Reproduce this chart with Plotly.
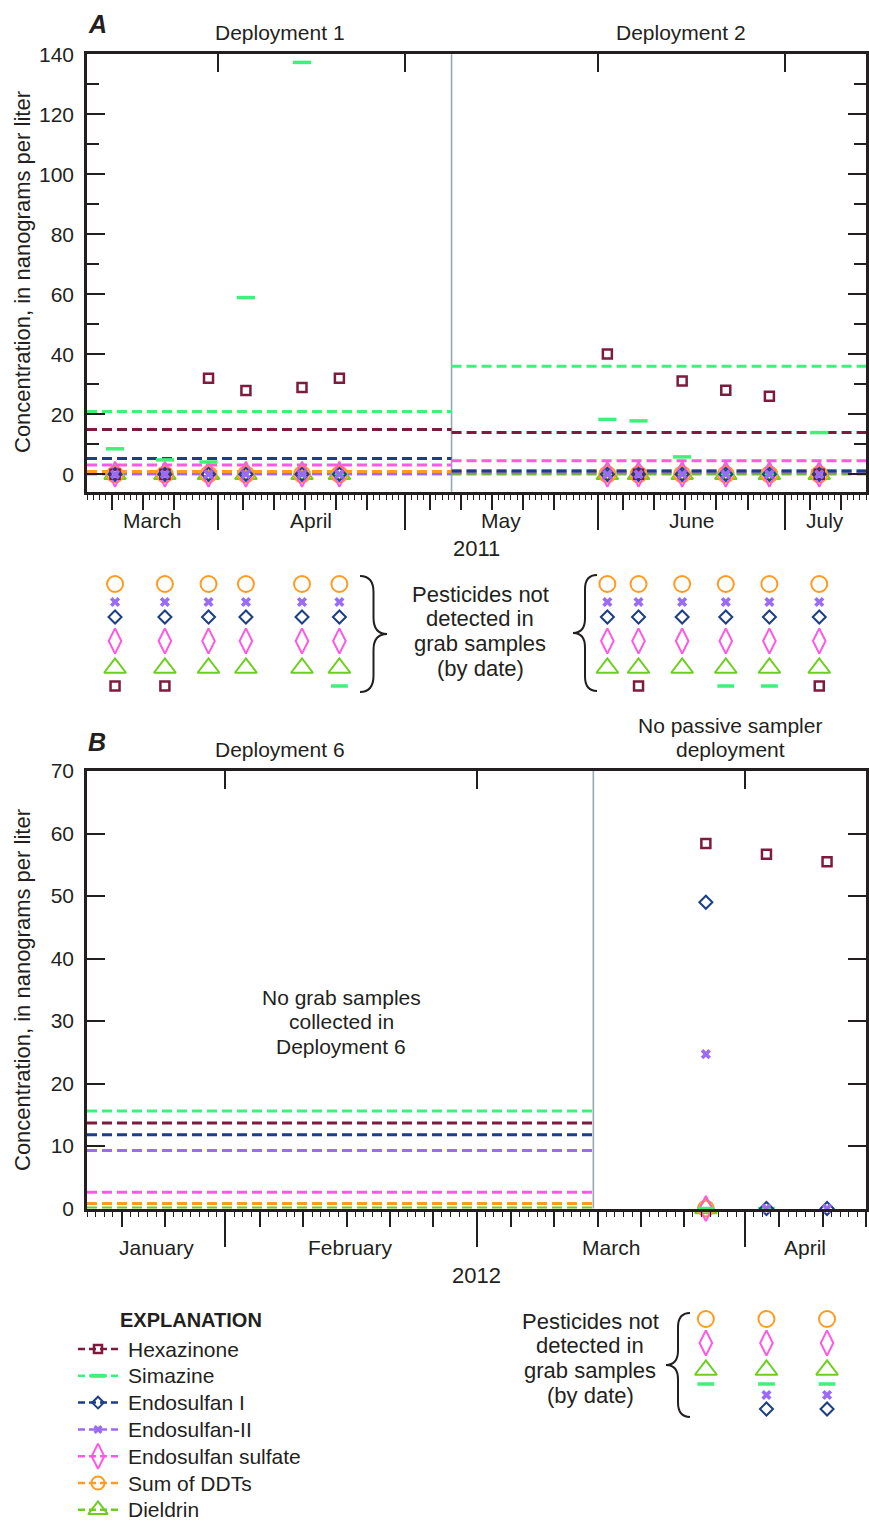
import pandas as pd
import plotly.graph_objects as go

W, H = 869, 1523
FONT = "Liberation Sans, Arial, sans-serif"
INK = "#231f20"

# ---------------------------------------------------------------- data
SERIES = ["Hexazinone", "Simazine", "Endosulfan I", "Endosulfan-II",
          "Endosulfan sulfate", "Sum of DDTs", "Dieldrin"]
COLORS = ["#7e1b3d", "#3ff07b", "#1b3e87", "#9b6cf3", "#ff58e3", "#ff9b20", "#6dce1d"]

# passive-sampler time-weighted estimates, ng/L (SERIES order)
DEPLOY1_EST = [14.9, 20.9, 5.3, 0.3, 3.1, 0.9, 0.1]
DEPLOY2_EST = [13.9, 36.0, 1.1, 0.5, 4.5, 1.2, 0.1]
DEPLOY6_EST = [13.7, 15.6, 11.8, 9.3, 2.6, 0.8, 0.1]

DEPLOY1_SPAN = ["2011-03-11", "2011-05-08 12:00"]
DEPLOY2_SPAN = ["2011-05-08 12:00", "2011-07-14"]
DEPLOY6_SPAN = ["2012-01-16", "2012-03-14 12:00"]

RANGE_2011 = ["2011-03-11", "2011-07-14"]
RANGE_2012 = ["2012-01-16", "2012-04-15"]

# grab samples (None = not detected)
GRAB_DATES_2011 = ["2011-03-15", "2011-03-23", "2011-03-30", "2011-04-05",
                   "2011-04-14", "2011-04-20", "2011-06-02", "2011-06-07",
                   "2011-06-14", "2011-06-21", "2011-06-28", "2011-07-06"]
HEXAZINONE_2011 = [None, None, 32.0, 27.9, 28.9, 32.0, 40.1, None, 31.1, 28.0, 26.0, None]
SIMAZINE_2011 = [8.5, 4.8, 4.1, 58.9, 137.3, None, 18.3, 17.8, 5.8, None, None, 13.9]
ENDOSULFAN_I_2011 = [None, None, None, None, None, None, None, None, None, None, None, None]
ENDOSULFAN_II_2011 = [None, None, None, None, None, None, None, None, None, None, None, None]
ENDO_SULFATE_2011 = [None, None, None, None, None, None, None, None, None, None, None, None]
SUM_DDTS_2011 = [None, None, None, None, None, None, None, None, None, None, None, None]
DIELDRIN_2011 = [None, None, None, None, None, None, None, None, None, None, None, None]

GRAB_DATES_2012 = ["2012-03-27", "2012-04-03", "2012-04-10"]
HEXAZINONE_2012 = [58.4, 56.7, 55.5]
SIMAZINE_2012 = [None, None, None]
ENDOSULFAN_I_2012 = [49.0, None, None]
ENDOSULFAN_II_2012 = [24.7, None, None]
ENDO_SULFATE_2012 = [None, None, None]
SUM_DDTS_2012 = [None, None, None]
DIELDRIN_2012 = [None, None, None]
# non-detects that are also drawn on the zero line in 2012
ZERO_MARKED_2012 = [["Simazine", "Dieldrin", "Sum of DDTs", "Endosulfan sulfate"],
                    ["Simazine", "Endosulfan I", "Endosulfan-II"],
                    ["Endosulfan I", "Endosulfan-II"]]

VALUES_2011 = [HEXAZINONE_2011, SIMAZINE_2011, ENDOSULFAN_I_2011, ENDOSULFAN_II_2011,
               ENDO_SULFATE_2011, SUM_DDTS_2011, DIELDRIN_2011]
VALUES_2012 = [HEXAZINONE_2012, SIMAZINE_2012, ENDOSULFAN_I_2012, ENDOSULFAN_II_2012,
               ENDO_SULFATE_2012, SUM_DDTS_2012, DIELDRIN_2012]

# ---------------------------------------------------------------- styles
SYMBOLS = ["square-open", "line-ew", "diamond-open", "x",
           "diamond-tall-open", "circle-open", "triangle-up-open"]
SIZES = [9, 12, 10, 9, 18, 16, 19]
WIDTHS = [2.5, 3.5, 2, 0, 2, 2, 2]
LINE_ORDER = [6, 3, 5, 4, 2, 0, 1]       # drawing order of the dashed lines
ZERO_ORDER = [6, 5, 4, 0, 1, 2, 3]       # drawing order of markers on the zero line

# vertical pixel rows of the "not detected" symbol lists
ROWS_2011 = {"Sum of DDTs": 584, "Endosulfan-II": 602, "Endosulfan I": 617,
             "Endosulfan sulfate": 641, "Dieldrin": 668, "Hexazinone": 686, "Simazine": 686}
ROWS_2012 = {"Sum of DDTs": 1319, "Endosulfan sulfate": 1343, "Dieldrin": 1370,
             "Simazine": 1384, "Endosulfan-II": 1395, "Endosulfan I": 1409, "Hexazinone": 1420}


def mk(i, size=None, width=None):
    return dict(symbol=SYMBOLS[i], size=size or SIZES[i], color=COLORS[i],
                line=dict(color=COLORS[i], width=WIDTHS[i] if width is None else width))


fig = go.Figure()


def add(x, y, xa, ya, **kw):
    fig.add_trace(go.Scatter(x=x, y=y, xaxis=xa, yaxis=ya, showlegend=False,
                             hoverinfo="skip", cliponaxis=False, **kw))


def noon(dates):
    return list(pd.to_datetime(dates) + pd.Timedelta(hours=12))


def draw_panel(xa, ya, xa_rows, spans, ests, dates, values, rows, zero_marked=None):
    # passive-sampler estimates as dashed horizontal segments
    for span, est in zip(spans, ests):
        for i in LINE_ORDER:
            add(span, [est[i], est[i]], xa, ya, mode="lines",
                line=dict(color=COLORS[i], width=3, dash="10px,5px"))
    xs = noon(dates)
    # non-detects on the zero line
    for i in ZERO_ORDER:
        pts = [x for k, (x, v) in enumerate(zip(xs, values[i])) if v is None and
               (zero_marked is None or SERIES[i] in zero_marked[k])]
        if pts:
            add(pts, [0] * len(pts), xa, ya, mode="markers", marker=mk(i))
    # detections
    for i in ZERO_ORDER:
        px = [x for x, v in zip(xs, values[i]) if v is not None]
        py = [v for v in values[i] if v is not None]
        if px:
            add(px, py, xa, ya, mode="markers",
                marker=mk(i, size=13 if SYMBOLS[i] == "line-ew" else None))
    # lists of pesticides not detected, stacked under each sample date
    for i in range(len(SERIES)):
        pts = [x for x, v in zip(xs, values[i]) if v is None]
        if pts:
            add(pts, [rows[SERIES[i]]] * len(pts), xa_rows, "y9", mode="markers", marker=mk(i))


draw_panel("x", "y", "x7", [DEPLOY1_SPAN, DEPLOY2_SPAN], [DEPLOY1_EST, DEPLOY2_EST],
           GRAB_DATES_2011, VALUES_2011, ROWS_2011)
draw_panel("x2", "y2", "x8", [DEPLOY6_SPAN], [DEPLOY6_EST],
           GRAB_DATES_2012, VALUES_2012, ROWS_2012, ZERO_MARKED_2012)

# ---------------------------------------------------------------- legend
LEG_Y0, LEG_DY = 1349, 26.8
LEG_SIZES = [8, 11, 9, 8, 18, 13, 17]
for i, name in enumerate(SERIES):
    y = LEG_Y0 + i * LEG_DY
    add([78, 118], [y, y], "x9", "y9", mode="lines",
        line=dict(color=COLORS[i], width=2.5, dash="7px,4px"))
    add([98], [y], "x9", "y9", mode="markers",
        marker=mk(i, size=LEG_SIZES[i], width=4 if SYMBOLS[i] == "line-ew" else None))

# placeholder traces so the helper tick axes are drawn
for xa, rng, ya in [("x3", RANGE_2011, "y"), ("x4", RANGE_2011, "y"),
                    ("x5", RANGE_2012, "y2"), ("x6", RANGE_2012, "y2")]:
    add([rng[0]], [0], xa, ya, mode="markers", marker=dict(opacity=0))


# ---------------------------------------------------------------- axes
def ticks_for(rng):
    start, end = pd.Timestamp(rng[0]), pd.Timestamp(rng[1])
    days = pd.date_range(start, end, freq="D")
    months = [d for d in days if d.day == 1]
    fives = [d for d in days if d.day in (5, 10, 15, 20, 25)]
    fmt = lambda s: [d.strftime("%Y-%m-%d") for d in s]
    return fmt(months), fmt(fives), fmt(days)


def month_mids(rng):
    start, end = pd.Timestamp(rng[0]), pd.Timestamp(rng[1])
    out = []
    for m in pd.date_range(start.to_period("M").start_time, end, freq="MS"):
        a = max(m, start)
        b = min(m + pd.offsets.MonthBegin(1), end)
        out.append((a + (b - a) / 2, m.strftime("%B")))
    return out


X_DOM = [87 / W, 866 / W]
YA_DOM = [1 - 491.7 / H, 1 - 54.3 / H]
YB_DOM = [1 - 1208.5 / H, 1 - 771 / H]


def main_x(rng, anchor):
    months, _, days = ticks_for(rng)
    return dict(domain=X_DOM, range=rng, type="date", anchor=anchor, showline=True,
                linecolor=INK, linewidth=2.5, mirror=True, tickmode="array",
                tickvals=months, ticks="outside", ticklen=36, tickwidth=2, tickcolor=INK,
                showticklabels=False, showgrid=False, zeroline=False, automargin=False,
                minor=dict(tickmode="array", tickvals=days, ticks="outside", ticklen=6,
                           tickwidth=1.3, tickcolor=INK, showgrid=False))


def five_x(rng, base, anchor):
    _, fives, _ = ticks_for(rng)
    return dict(overlaying=base, range=rng, type="date", anchor=anchor, showline=False,
                tickmode="array", tickvals=fives, ticks="outside", ticklen=17,
                tickwidth=1.6, tickcolor=INK, showticklabels=False, showgrid=False,
                zeroline=False, automargin=False)


def top_x(rng, base, anchor):
    months, _, _ = ticks_for(rng)
    return dict(overlaying=base, range=rng, type="date", anchor=anchor, side="top",
                showline=False, tickmode="array", tickvals=months, ticks="inside",
                ticklen=18, tickwidth=2, tickcolor=INK, showticklabels=False,
                showgrid=False, zeroline=False, automargin=False)


def row_x(rng):
    return dict(domain=X_DOM, range=rng, type="date", anchor="y9", visible=False,
                automargin=False)


def main_y(dom, rng, vals, minor_vals, anchor):
    d = dict(domain=dom, range=rng, anchor=anchor, showline=True, linecolor=INK,
             linewidth=2.5, mirror="ticks", tickmode="array", tickvals=vals,
             ticks="inside", ticklen=18, tickwidth=2, tickcolor=INK,
             tickfont=dict(size=21, family=FONT, color=INK), ticklabelstandoff=6,
             showgrid=False, zeroline=False, automargin=False)
    if minor_vals:
        d["minor"] = dict(tickmode="array", tickvals=minor_vals, ticks="inside",
                          ticklen=12, tickwidth=2, tickcolor=INK, showgrid=False)
    return d


fig.update_layout(
    width=W, height=H, margin=dict(l=0, r=0, t=0, b=0, pad=0, autoexpand=False),
    paper_bgcolor="white", plot_bgcolor="rgba(0,0,0,0)", showlegend=False,
    font=dict(family=FONT, color=INK, size=21),
    xaxis=main_x(RANGE_2011, "y"),
    xaxis2=main_x(RANGE_2012, "y2"),
    xaxis3=five_x(RANGE_2011, "x", "y"),
    xaxis4=top_x(RANGE_2011, "x", "y"),
    xaxis5=five_x(RANGE_2012, "x2", "y2"),
    xaxis6=top_x(RANGE_2012, "x2", "y2"),
    xaxis7=row_x(RANGE_2011),
    xaxis8=row_x(RANGE_2012),
    yaxis=main_y(YA_DOM, [-5.8, 140], list(range(0, 141, 20)), list(range(10, 140, 20)), "x"),
    yaxis2=main_y(YB_DOM, [0, 70], list(range(0, 71, 10)), None, "x2"),
    xaxis9=dict(domain=[0, 1], range=[0, W], visible=False, anchor="y9", automargin=False),
    yaxis9=dict(domain=[0, 1], range=[H, 0], visible=False, anchor="x9", automargin=False),
)

# deployment boundaries
fig.add_shape(type="line", xref="x", yref="y domain", x0=DEPLOY1_SPAN[1], x1=DEPLOY1_SPAN[1],
              y0=0, y1=1, line=dict(color="#97aaae", width=1.6), layer="below")
fig.add_shape(type="line", xref="x2", yref="y2 domain", x0=DEPLOY6_SPAN[1], x1=DEPLOY6_SPAN[1],
              y0=0, y1=1, line=dict(color="#97aaae", width=1.6), layer="below")


def brace(x, y0, y1, w):
    xm, ym, q = x + w / 2, (y0 + y1) / 2, abs(w) * 0.6
    return (f"M{x},{y0} Q{xm},{y0} {xm},{y0 + q} L{xm},{ym - q} "
            f"Q{xm},{ym} {x + w},{ym} Q{xm},{ym} {xm},{ym + q} "
            f"L{xm},{y1 - q} Q{xm},{y1} {x},{y1}")


for args in [(360, 576, 692, 27), (597, 575, 691, -24), (690, 1313, 1417, -24)]:
    fig.add_shape(type="path", xref="x9", yref="y9", path=brace(*args),
                  line=dict(color=INK, width=2))


# ---------------------------------------------------------------- text
def text(x, y, s, size=21, xanchor="center", xref="x9", **kw):
    fig.add_annotation(x=x, y=y, xref=xref, yref="y9", text=s, showarrow=False,
                       font=dict(size=size, family=FONT, color=INK),
                       xanchor=xanchor, yanchor="middle", **kw)


text(97, 24, "<b><i>A</i></b>", size=25)
text(97, 742, "<b><i>B</i></b>", size=25)
text(280, 32, "Deployment 1")
text(681, 32, "Deployment 2")
text(280, 749, "Deployment 6")
text(730, 725, "No passive sampler")
text(730, 749, "deployment")
for k, s in enumerate(["No grab samples", "collected in", "Deployment 6"]):
    text(341, 997 + k * 24.5, s)
for k, s in enumerate(["Pesticides not", "detected in", "grab samples", "(by date)"]):
    text(480, 594 + k * 24.7, s, size=22)
    text(590, 1321 + k * 24.7, s, size=22)

for mid, name in month_mids(RANGE_2011):
    text(mid, 520, name, xref="x")
for mid, name in month_mids(RANGE_2012):
    text(mid, 1247, name, xref="x2")
text(476.5, 548, "2011", size=22)
text(476.5, 1275, "2012", size=22)

text(22, 272, "Concentration, in nanograms per liter", size=22, textangle=-90)
text(22, 990, "Concentration, in nanograms per liter", size=22, textangle=-90)

text(118, 1320, "<b>EXPLANATION</b>", size=20, xanchor="left")
for i, name in enumerate(SERIES):
    text(126, LEG_Y0 + i * LEG_DY, name, xanchor="left")

fig.write_html("out.html")
